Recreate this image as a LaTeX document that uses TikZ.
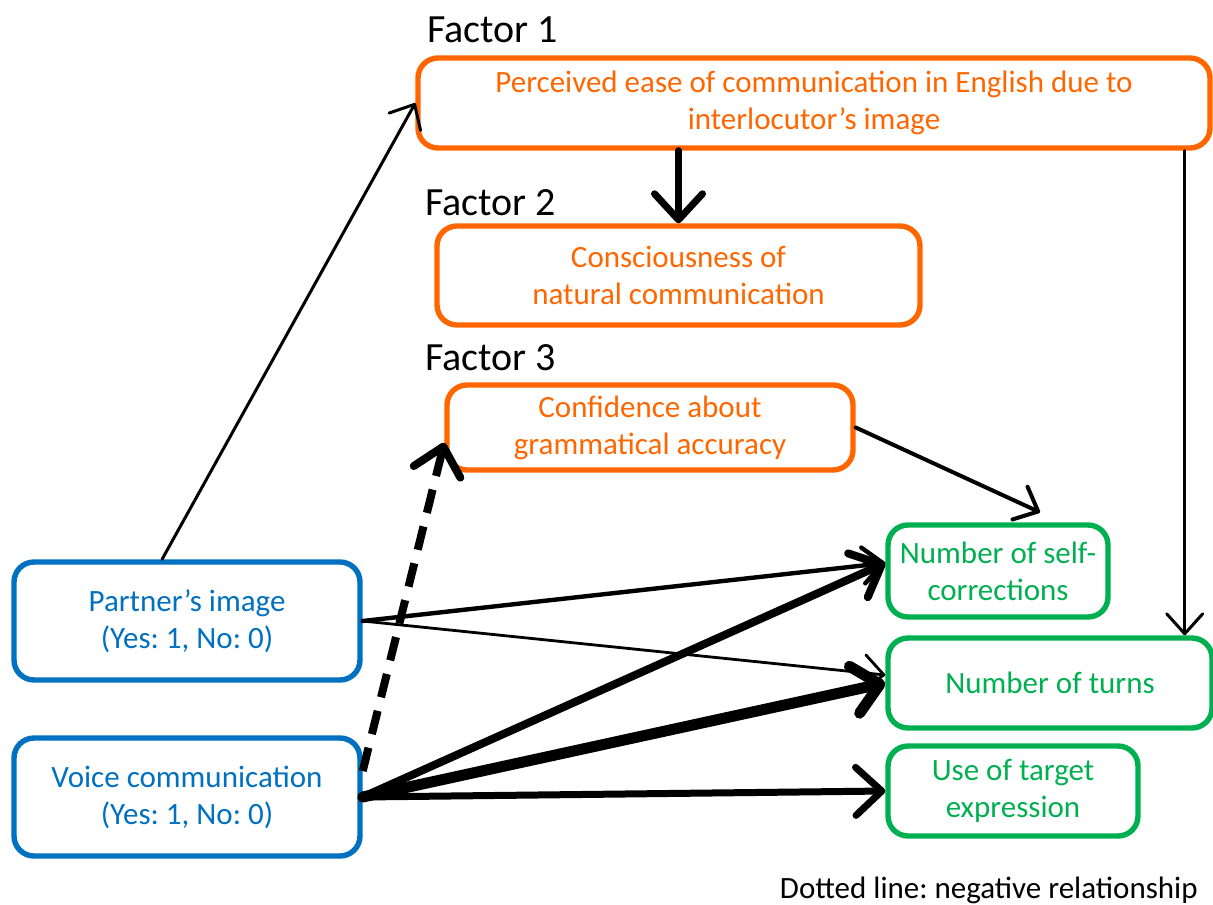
\documentclass[tikz,border=0pt]{standalone}
\usepackage{fontspec}
\setmainfont{Carlito}
\frenchspacing
\usetikzlibrary{arrows.meta}

\definecolor{factororange}{HTML}{FF6600}
\definecolor{inputblue}{HTML}{0070C0}
\definecolor{outputgreen}{HTML}{00B050}

\tikzset{
  box/.style={draw, line width=2.7pt, rounded corners=10pt, align=center,
    inner sep=0pt, font=\fontsize{15.5}{18.5}\selectfont},
  factorbox/.style={box, draw=factororange, text=factororange},
  inputbox/.style={box, draw=inputblue, text=inputblue},
  outputbox/.style={box, draw=outputgreen, text=outputgreen},
  factorlabel/.style={anchor=base west, inner sep=0pt, font=\fontsize{20}{22}\selectfont},
  link/.style={line width=#1, line cap=round,
    -{Straight Barb[length=10pt, width=18pt, round]}},
  biglink/.style={line width=#1, line cap=round,
    -{Straight Barb[length=13pt, width=24pt, round]}},
}

\begin{document}
\begin{tikzpicture}[x=0.5pt, y=-0.5pt]
        \useasboundingbox (0,0) rectangle (1213,904);

        % factors
        \node[factorlabel] (lab1) at (427,43) {Factor 1};
        \node[factorlabel] (lab2) at (425,215) {Factor 2};
        \node[factorlabel] (lab3) at (425,370) {Factor 3};
        \node[factorbox, minimum width=396pt, minimum height=45pt] (f1) at (814,103)
            {Perceived ease of communication in English due to\\interlocutor’s image};
        \node[factorbox, minimum width=241.5pt, minimum height=49.5pt] (f2) at (678.5,275.5)
            {Consciousness of\\natural communication};
        \node[factorbox, minimum width=203pt, minimum height=42.5pt] (f3) at (650,427.5)
            {Confidence about\\grammatical accuracy};

        % inputs
        \node[inputbox, minimum width=173pt, minimum height=59pt] (partner) at (187,621)
            {Partner’s image\\(Yes: 1, No: 0)};
        \node[inputbox, minimum width=173pt, minimum height=59pt] (voice) at (187,797)
            {Voice communication\\(Yes: 1, No: 0)};

        % outputs
        \node[outputbox, minimum width=110pt, minimum height=46pt] (selfcorr) at (998,571)
            {Number of self-\\corrections};
        \node[outputbox, minimum width=162pt, minimum height=45pt] (turns) at (1050,683)
            {Number of turns};
        \node[outputbox, minimum width=125pt, minimum height=45pt] (target) at (1013,791)
            {Use of target\\expression};

        \node[anchor=base east, inner sep=0pt, font=\fontsize{15.5}{18}\selectfont] (legend)
            at (1198,898) {Dotted line: negative relationship};

        \draw[link=1.5pt] (partner.112) -- (f1.west);
        \draw[biglink=3.5pt] (f1.south -| f2.north) -- (f2.north);
        \draw[link=1.5pt] ([xshift=-15pt]turns.north east |- f1.south) -- ([xshift=-15pt]turns.north east);
        \draw[link=2pt] (f3.east) -- ([xshift=21pt, yshift=5pt]selfcorr.north);
        \draw[biglink=4pt, dash pattern=on 12pt off 7pt, line cap=butt] ([yshift=13pt]voice.east) -- ([yshift=15pt]f3.south west);

        \draw[link=2.2pt] (partner.east) -- ([yshift=4pt]selfcorr.west);
        \draw[link=1.4pt] (partner.east) -- ([yshift=4pt]turns.west);
        \draw[biglink=4pt] (voice.east) -- ([yshift=4pt]selfcorr.west);
        \draw[biglink=5.5pt] (voice.east) -- (turns.west);
        \draw[biglink=3.5pt] (voice.east) -- (target.west);
    \end{tikzpicture}
\end{document}
